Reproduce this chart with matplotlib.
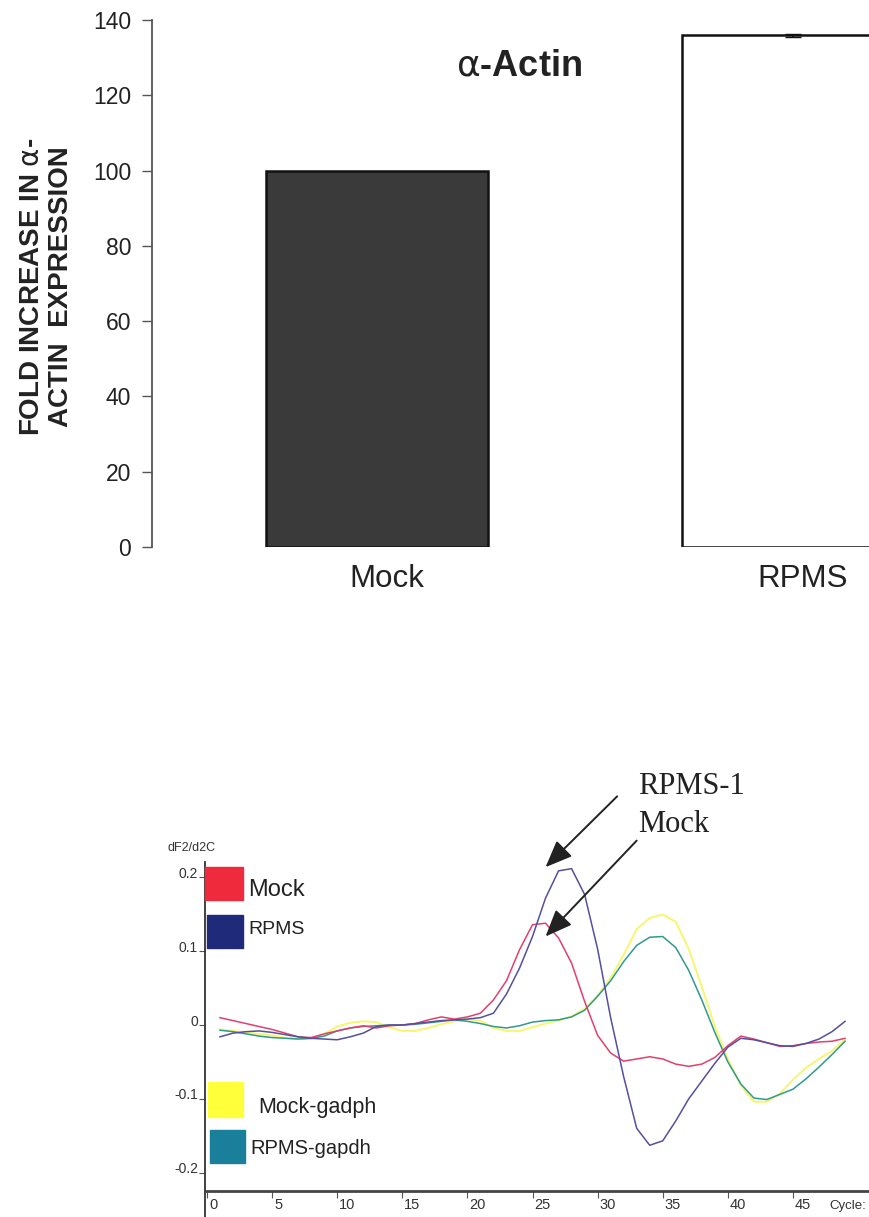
import numpy as np
import matplotlib
matplotlib.use("Agg")
import matplotlib.pyplot as plt
from matplotlib.patches import Rectangle
from matplotlib.transforms import ScaledTranslation

plt.rcParams['font.family'] = ['Liberation Sans', 'DejaVu Sans']

W, H = 869, 1217

# --- alpha-actin fold increase ---
groups = ['Mock', 'RPMS']
fold_increase = [100, 136]
fold_err = [0, 0.4]

# --- melt curve derivative (dF2/d2C) per cycle ---
cycles = np.arange(1, 50)
mock = [0.010, 0.006, 0.002, -0.002, -0.006, -0.011, -0.016, -0.017, -0.012, -0.008,
        -0.004, -0.001, -0.004, -0.001, 0.000, 0.002, 0.007, 0.011, 0.008, 0.011,
        0.016, 0.034, 0.060, 0.102, 0.136, 0.138, 0.118, 0.084, 0.032, -0.014,
        -0.038, -0.049, -0.046, -0.043, -0.046, -0.053, -0.056, -0.053, -0.044, -0.028,
        -0.015, -0.019, -0.024, -0.029, -0.028, -0.025, -0.023, -0.022, -0.018]
rpms = [-0.016, -0.011, -0.009, -0.008, -0.010, -0.013, -0.016, -0.018, -0.019, -0.020,
        -0.016, -0.011, -0.002, 0.000, 0.000, 0.002, 0.004, 0.006, 0.007, 0.008,
        0.010, 0.016, 0.042, 0.077, 0.120, 0.172, 0.209, 0.212, 0.177, 0.103,
        0.010, -0.070, -0.140, -0.163, -0.157, -0.130, -0.100, -0.076, -0.052, -0.030,
        -0.018, -0.020, -0.024, -0.028, -0.029, -0.025, -0.019, -0.009, 0.005]
mock_gapdh = [-0.006, -0.008, -0.010, -0.012, -0.014, -0.017, -0.019, -0.019, -0.012, -0.002,
              0.003, 0.005, 0.004, -0.003, -0.008, -0.008, -0.004, 0.001, 0.005, 0.008,
              0.006, -0.004, -0.008, -0.008, -0.003, 0.002, 0.006, 0.012, 0.022, 0.040,
              0.064, 0.095, 0.130, 0.145, 0.150, 0.140, 0.103, 0.052, -0.002, -0.046,
              -0.082, -0.104, -0.104, -0.093, -0.074, -0.058, -0.046, -0.035, -0.020]
rpms_gapdh = [-0.007, -0.009, -0.012, -0.015, -0.017, -0.018, -0.019, -0.018, -0.015, -0.008,
              -0.004, -0.002, -0.001, 0.000, 0.000, 0.001, 0.003, 0.005, 0.007, 0.005,
              0.002, -0.002, -0.004, -0.001, 0.004, 0.006, 0.007, 0.011, 0.020, 0.039,
              0.060, 0.086, 0.108, 0.119, 0.120, 0.105, 0.074, 0.034, -0.010, -0.050,
              -0.080, -0.099, -0.101, -0.094, -0.087, -0.073, -0.057, -0.040, -0.022]
x_ticks = [0, 5, 10, 15, 20, 25, 30, 35, 40, 45]
y_ticks = [-0.2, -0.1, 0, 0.1, 0.2]
y_tick_labels = ['-0.2', '-0.1', '0', '0.1', '0.2']


def box(x0, y0, x1, y1):
    # pixel box (origin top-left) -> figure fraction [left, bottom, width, height]
    return [x0 / W, 1 - y1 / H, (x1 - x0) / W, (y1 - y0) / H]


def fx(x):
    return x / W


def fy(y):
    return 1 - y / H


def nudge(label, dx=0, dy=0):
    label.set_transform(label.get_transform() + ScaledTranslation(dx / 100, dy / 100, fig.dpi_scale_trans))


fig = plt.figure(figsize=(W / 100, H / 100), dpi=100)

# ---------------- bar chart ----------------
ax1 = fig.add_axes(box(152, 20, 869, 547))
pos = np.arange(len(groups))
ax1.bar(pos, fold_increase, width=0.532, color=['#3a3a3a', 'white'],
        edgecolor='#111111', linewidth=1.8)
ax1.errorbar(pos[1:], fold_increase[1:], yerr=fold_err[1:], fmt='none',
             ecolor='#111111', elinewidth=1.2, capsize=6)
ax1.set_xlim(-0.5415, 1.184)
ax1.set_ylim(0, 140)
for s in ['top', 'right', 'bottom']:
    ax1.spines[s].set_visible(False)
ax1.spines['left'].set_color('#555555')
ax1.spines['left'].set_linewidth(1.3)
ax1.set_yticks(range(0, 141, 20))
ax1.tick_params(axis='y', direction='out', length=7, width=1, color='#555555',
                labelsize=16.5, labelcolor='#222222', pad=8)
ax1.set_xticks(pos)
ax1.set_xticklabels(groups)
ax1.tick_params(axis='x', length=0, labelsize=22.5, labelcolor='#222222', pad=12)
for lbl in ax1.get_xticklabels():
    nudge(lbl, dx=10)

fig.text(fx(519), fy(66), r'$\mathrm{\alpha}$-Actin', fontsize=26, fontweight='bold',
         ha='center', va='center', color='#222222')
fig.text(fx(47), fy(287), 'FOLD INCREASE IN $\\mathrm{\\alpha}$-\nACTIN  EXPRESSION', rotation=90,
         fontsize=20, fontweight='bold', ha='center', va='center',
         multialignment='center', linespacing=1.15, color='#222222')

# ---------------- melt curves ----------------
ax2 = fig.add_axes(box(205, 862, 869, 1191))
ax2.plot(cycles, mock_gapdh, color='#f8f56e', lw=1.4)
ax2.plot(cycles, rpms_gapdh, color='#2f9a8e', lw=1.1)
ax2.plot(cycles, mock, color='#e2406c', lw=1.1)
ax2.plot(cycles, rpms, color='#55509e', lw=1.1)
ax2.set_xlim(-0.15, 50.84)
ax2.set_ylim(-0.225, 0.221)
for s in ['top', 'right']:
    ax2.spines[s].set_visible(False)
ax2.spines['bottom'].set_color('#444444')
ax2.spines['bottom'].set_linewidth(2)
ax2.spines['left'].set_color('#333333')
ax2.spines['left'].set_linewidth(1.3)
# y axis runs on a little below the cycle axis
ax2.plot([0, 0], [0, -0.09], transform=ax2.transAxes, clip_on=False,
         color='#333333', lw=1.3)

ax2.set_xticks(x_ticks)
ax2.tick_params(axis='x', direction='out', length=5, width=0.8, color='#555555',
                labelsize=10.5, labelcolor='#333333', pad=0)
for lbl in ax2.get_xticklabels():
    lbl.set_ha('left')
    nudge(lbl, dx=2)
ax2.set_yticks(y_ticks)
ax2.set_yticklabels(y_tick_labels)
ax2.tick_params(axis='y', direction='out', length=4, width=0.8, color='#555555',
                labelsize=10, labelcolor='#333333', pad=1)
for lbl in ax2.get_yticklabels():
    nudge(lbl, dy=5)

fig.text(fx(866), fy(1206), 'Cycle:', fontsize=9.5, color='#333333', ha='right', va='center')
fig.text(fx(167), fy(848), 'dF2/d2C', fontsize=9, color='#333333', va='center')

# legend swatches and names
swatches = [((205, 867, 243, 900), '#ee2a3c', 'Mock', 248, 890, 17),
            ((207, 915, 243, 948), '#1f2a7a', 'RPMS', 248, 930, 14),
            ((208, 1082, 243, 1117), '#ffff3a', 'Mock-gadph', 258, 1107, 15.5),
            ((210, 1130, 245, 1163), '#1a7f9a', 'RPMS-gapdh', 250, 1148, 14.5)]
for (x0, y0, x1, y1), c, name, tx, ty, fs in swatches:
    fig.patches.append(Rectangle((fx(x0), fy(y1)), fx(x1 - x0), (y1 - y0) / H,
                                 transform=fig.transFigure, color=c, zorder=3))
    fig.text(fx(tx), fy(ty), name, fontsize=fs, color='#222222', va='center')

# arrows pointing at the two amplification peaks
arrow = dict(arrowstyle='-|>,head_length=1.1,head_width=0.45', color='#222222',
             lw=1.4, mutation_scale=15, shrinkA=0, shrinkB=0)
ax2.annotate('', xy=(26.0, 0.214), xytext=(31.5, 0.31), arrowprops=arrow,
             annotation_clip=False)
ax2.annotate('', xy=(26.0, 0.12), xytext=(33.0, 0.25), arrowprops=arrow,
             annotation_clip=False)
fig.text(fx(638), fy(786), 'RPMS-1', family=['Liberation Serif', 'DejaVu Serif'],
         fontsize=22, color='#222222', va='center')
fig.text(fx(638), fy(825), 'Mock', family=['Liberation Serif', 'DejaVu Serif'],
         fontsize=22, color='#222222', va='center')

fig.savefig('out.png', dpi=100)
